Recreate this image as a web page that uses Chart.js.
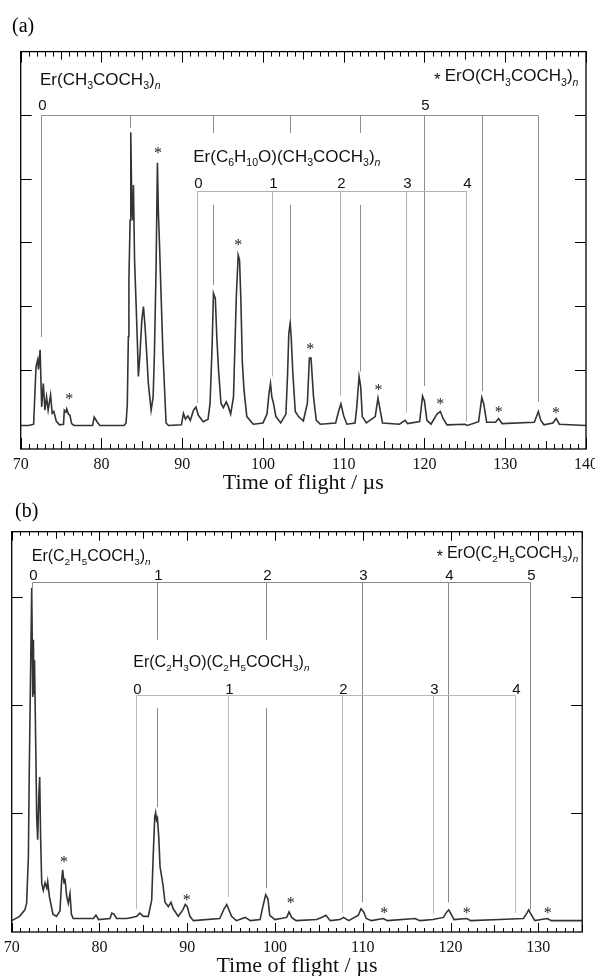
<!DOCTYPE html>
<html>
<head>
<meta charset="utf-8">
<script src="https://cdn.jsdelivr.net/npm/chart.js@4.4.0/dist/chart.umd.min.js"></script>
<style>
  html, body { margin: 0; padding: 0; background: #fff; }
  #wrap { position: relative; width: 595px; height: 976px; overflow: hidden; }
  canvas { position: absolute; left: 0; }
  #chartA { top: 0; }
  #chartB { top: 496px; }
</style>
</head>
<body>
<div id="wrap">
  <canvas id="chartA" width="595" height="500"></canvas>
  <canvas id="chartB" width="595" height="480"></canvas>
</div>
<script>
// ---------- panel (a): Er + acetone ----------
const timeA = [70.0, 71.0, 71.6, 71.9, 72.1, 72.2, 72.4, 72.6, 72.8, 73.0, 73.2, 73.4, 73.7, 73.9, 74.1, 74.4, 74.8,
  75.3, 75.4, 75.6, 75.7, 75.9, 76.1, 76.3, 76.6, 78.9, 79.1, 79.3, 79.5, 79.8, 82.8, 83.05, 83.2, 83.33, 83.4,
  83.55, 83.63, 83.75, 83.88, 83.96, 84.1, 84.3, 84.45, 84.57, 84.75, 85.0, 85.2, 85.4, 85.6, 85.8, 86.15, 86.4,
  86.56, 86.76, 86.93, 87.05, 87.2, 87.35, 87.6, 87.8, 88.0, 88.3, 89.9, 90.15, 90.4, 90.7, 91.0, 91.4, 91.7, 92.0,
  92.6, 93.2, 93.45, 93.7, 93.87, 94.1, 94.3, 94.5, 94.8, 95.1, 95.45, 95.7, 96.0, 96.35, 96.7, 96.93, 97.1, 97.25,
  97.45, 97.65, 98.0, 98.8, 100.0, 100.5, 100.75, 100.93, 101.1, 101.3, 101.6, 102.2, 102.84, 103.05, 103.2,
  103.37, 103.5, 103.7, 104.0, 104.4, 105.0, 105.5, 105.75, 105.95, 106.26, 106.6, 107.1, 109.0, 109.36, 109.65,
  110.0, 110.4, 111.4, 111.6, 111.9, 112.1, 112.3, 112.8, 113.9, 114.24, 114.5, 114.8, 116.9, 117.6, 117.9, 119.4,
  119.76, 120.0, 120.3, 120.8, 121.55, 121.96, 122.3, 122.8, 125.0, 125.3, 126.7, 127.1, 127.35, 127.7, 128.8,
  129.18, 129.6, 133.6, 134.1, 134.4, 134.8, 135.9, 136.3, 136.7, 140.0];
const signalA = [0.12, 0.12, 0.14, 1.05, 1.15, 1.0, 1.31, 0.41, 0.78, 0.36, 0.57, 0.36, 0.60, 0.31, 0.34, 0.19, 0.13,
  0.14, 0.36, 0.33, 0.38, 0.30, 0.28, 0.15, 0.12, 0.12, 0.25, 0.21, 0.17, 0.12, 0.12, 0.16, 0.45, 1.52, 2.41,
  3.35, 4.73, 3.62, 3.35, 3.9, 2.72, 1.99, 1.42, 0.89, 1.2, 1.78, 1.99, 1.67, 1.26, 0.79, 0.36, 0.57,
  1.26, 2.57, 4.25, 3.46, 2.93, 2.30, 1.31, 0.73, 0.16, 0.12, 0.13, 0.31, 0.22, 0.27, 0.20, 0.36, 0.41, 0.28,
  0.18, 0.22, 0.47, 1.36, 2.2, 2.12, 1.46, 0.99, 0.47, 0.40, 0.49, 0.42, 0.30, 0.57, 2.15, 2.80, 2.72, 2.15,
  1.10, 0.68, 0.26, 0.14, 0.16, 0.30, 0.63, 0.78, 0.57, 0.47, 0.26, 0.16, 0.30, 0.94, 1.57,
  1.73, 1.5, 0.94, 0.34, 0.26, 0.19, 0.47, 1.18, 1.18, 0.57, 0.20, 0.14, 0.16, 0.34, 0.46,
  0.27, 0.14, 0.16, 0.39, 0.89, 0.73, 0.26, 0.16, 0.26, 0.55, 0.37, 0.16, 0.14, 0.20, 0.15, 0.18,
  0.58, 0.50, 0.20, 0.14, 0.30, 0.34, 0.23, 0.13, 0.14, 0.12, 0.18, 0.56, 0.45, 0.17, 0.17,
  0.23, 0.15, 0.17, 0.34, 0.20, 0.13, 0.16, 0.23, 0.14, 0.12];

// Er(CH3COCH3)n, n = 0..7
const combA1Pos = [72.5, 83.55, 93.8, 103.4, 112.0, 119.9, 127.1, 134.1];
const combA1End = [1.51, 4.80, 2.33, 1.82, 0.97, 0.74, 0.66, 0.49];
const combA1Num = ['0', '', '', '', '', '5', '', ''];
// Er(C6H10O)(CH3COCH3)n, n = 0..4
const combA2Pos = [91.8, 101.1, 109.6, 117.7, 125.1];
const combA2End = [0.47, 0.89, 0.59, 0.32, 0.18];
const combA2Num = ['0', '1', '2', '3', '4'];
// ErO(CH3COCH3)n peaks marked with *
const starATime = [76.0, 87.0, 96.93, 105.85, 114.3, 121.96, 129.2, 136.3];
const starAVal = [0.57, 4.44, 2.99, 1.35, 0.71, 0.50, 0.36, 0.35];

const xLabelsA = [70, 80, 90, 100, 110, 120, 130, 140];
const yTicksA = [1, 2, 3, 4, 5];

// ---------- panel (b): Er + 2-butanone ----------
const timeB = [70.0, 70.9, 71.5, 71.7, 71.9, 72.0, 72.15, 72.28, 72.36, 72.4, 72.47, 72.55, 72.6, 72.73, 72.85,
  72.96, 73.1, 73.19, 73.3, 73.42, 73.6, 73.8, 74.0, 74.1, 74.3, 74.5, 74.7, 75.1, 75.5, 75.7, 75.81, 75.96,
  76.07, 76.26, 76.45, 76.64, 76.8, 77.0, 79.3, 79.6, 79.9, 81.2, 81.4, 81.65, 81.95, 83.1, 83.7, 84.24, 84.6,
  85.0, 85.56, 85.95, 86.13, 86.3, 86.4, 86.5, 86.6, 86.75, 86.9, 87.1, 87.27, 87.46, 87.84, 88.15, 88.4, 88.98,
  89.5, 89.78, 90.0, 90.3, 90.7, 93.7, 94.2, 94.5, 94.7, 95.05, 95.6, 96.6, 97.2, 98.3, 98.67, 98.94, 99.2, 99.4,
  100.0, 101.33, 101.6, 101.9, 102.4, 104.75, 105.3, 105.8, 106.3, 107.4, 107.8, 108.4, 109.5, 109.8, 110.1,
  110.4, 111.0, 112.34, 112.8, 115.95, 116.5, 118.0, 119.2, 119.48, 119.79, 120.0, 120.4, 121.84, 122.3, 125.6,
  128.3, 128.7, 128.9, 129.1, 129.6, 131.0, 131.5, 135.0];
const signalB = [0.0, 0.04, 0.10, 0.16, 0.59, 1.37, 2.29, 3.08, 2.44, 2.07, 2.6, 2.1, 2.41, 1.67, 0.96,
  0.75, 1.18, 1.33, 0.75, 0.35, 0.28, 0.35, 0.30, 0.36, 0.22, 0.14, 0.06, 0.04, 0.09, 0.38, 0.47, 0.35,
  0.39, 0.23, 0.16, 0.25, 0.06, 0.02, 0.02, 0.05, 0.01, 0.02, 0.07, 0.06, 0.02, 0.02, 0.03, 0.04, 0.07,
  0.04, 0.04, 0.19, 0.62, 0.96, 1.0, 0.93, 0.95, 0.78, 0.50, 0.40, 0.31, 0.17, 0.13, 0.17, 0.11, 0.04,
  0.10, 0.15, 0.13, 0.04, 0.0, 0.02, 0.11, 0.15, 0.11, 0.04, 0.0, 0.03, 0.0, 0.01, 0.15, 0.24, 0.20, 0.05,
  0.01, 0.03, 0.08, 0.03, 0.0, 0.01, 0.03, 0.05, 0.0, 0.01, 0.03, 0.0, 0.05, 0.11, 0.08,
  0.02, 0.0, 0.02, 0.0, 0.02, 0.0, 0.01, 0.03, 0.07, 0.10, 0.07, 0.01, 0.02, 0.0, 0.01,
  0.02, 0.07, 0.10, 0.07, 0.0, 0.02, 0.0, 0.0];

// Er(C2H5COCH3)n, n = 0..5
const combB1Pos = [72.28, 86.52, 98.94, 109.95, 119.74, 129.05];
const combB1End = [3.08, 1.05, 0.30, 0.17, 0.17, 0.10];
const combB1Num = ['0', '1', '2', '3', '4', '5'];
// Er(C2H3O)(C2H5COCH3)n, n = 0..4
const combB2Pos = [84.13, 94.61, 107.6, 117.97, 127.35];
const combB2End = [0.11, 0.22, 0.07, 0.06, 0.07];
const combB2Num = ['0', '1', '2', '3', '4'];
// ErO(C2H5COCH3)n peaks marked with *
const starBTime = [75.96, 89.94, 101.8, 112.45, 121.84, 131.07];
const starBVal = [0.56, 0.21, 0.18, 0.09, 0.09, 0.09];

const xLabelsB = [70, 80, 90, 100, 110, 120, 130];
const yTicksB = [1, 2, 3];

// ---------- drawing helpers ----------
const SANS = '"Liberation Sans", Arial, sans-serif';
const SERIF = '"Liberation Serif", "Times New Roman", serif';

// "Er(CH_3COCH_3)_n" -> segments with subscripts
function parseRich(s) {
  const out = [];
  const re = /_(\d+|n)/g;
  let last = 0, m;
  while ((m = re.exec(s))) {
    if (m.index > last) out.push({ t: s.slice(last, m.index), sub: false });
    out.push({ t: m[1], sub: true, it: m[1] === 'n' });
    last = re.lastIndex;
  }
  if (last < s.length) out.push({ t: s.slice(last), sub: false });
  return out;
}

function drawRich(ctx, s, x, y, size, align) {
  const segs = parseRich(s);
  const fontOf = g => (g.it ? 'italic ' : '') + (g.sub ? size * 0.62 : size) + 'px ' + SANS;
  let w = 0;
  segs.forEach(g => { ctx.font = fontOf(g); g.w = ctx.measureText(g.t).width; w += g.w; });
  let cx = align === 'right' ? x - w : x;
  ctx.textAlign = 'left';
  ctx.textBaseline = 'alphabetic';
  segs.forEach(g => {
    ctx.font = fontOf(g);
    ctx.fillText(g.t, cx, y + (g.sub ? size * 0.28 : 0));
    cx += g.w;
  });
  return align === 'right' ? x - w : x;
}

function drawComb(ctx, xs, ys, c) {
  const yl = Math.round(ys.getPixelForValue(c.level)) + 0.5;
  const px = c.pos.map(t => Math.round(xs.getPixelForValue(t)) + 0.5);
  ctx.save();
  ctx.strokeStyle = c.color;
  ctx.lineWidth = 1;
  ctx.beginPath();
  ctx.moveTo(px[0], yl);
  ctx.lineTo(px[px.length - 1], yl);
  px.forEach((p, i) => {
    const ye = ys.getPixelForValue(c.ends[i]);
    if (c.gapIdx && c.gapIdx.includes(i)) {
      const g1 = ys.getPixelForValue(c.gap[1]);
      const g0 = ys.getPixelForValue(c.gap[0]);
      ctx.moveTo(p, yl); ctx.lineTo(p, g1);
      ctx.moveTo(p, g0); ctx.lineTo(p, ye);
    } else {
      ctx.moveTo(p, yl); ctx.lineTo(p, ye);
    }
  });
  ctx.stroke();
  ctx.fillStyle = '#111';
  ctx.font = c.numSize + 'px ' + SANS;
  ctx.textAlign = 'center';
  ctx.textBaseline = 'alphabetic';
  px.forEach((p, i) => { if (c.nums[i]) ctx.fillText(c.nums[i], p + 1, yl - c.numGap); });
  ctx.restore();
}

function decorPlugin(panel) {
  return {
    id: 'decor',
    afterDatasetsDraw(chart) {
      const { ctx, chartArea: a, scales: { x, y } } = chart;
      ctx.save();
      panel.combs.forEach(c => drawComb(ctx, x, y, c));

      // asterisks over ErO peaks
      ctx.fillStyle = '#222';
      ctx.font = '16px ' + SERIF;
      ctx.textAlign = 'center';
      ctx.textBaseline = 'middle';
      panel.starT.forEach((t, i) => ctx.fillText('*', x.getPixelForValue(t), y.getPixelForValue(panel.starV[i]) + 3));

      // series names
      ctx.fillStyle = '#111';
      panel.names.forEach(n => {
        const left = drawRich(ctx, n.text, x.getPixelForValue(n.t), y.getPixelForValue(n.v), panel.nameSize, n.align);
        if (n.star) {
          ctx.font = panel.nameSize + 'px ' + SANS;
          ctx.textAlign = 'right';
          ctx.fillText('*', left - 4, y.getPixelForValue(n.v) + 4);
        }
      });

      // frame
      ctx.strokeStyle = '#000';
      ctx.lineWidth = 1.3;
      ctx.strokeRect(a.left, a.top, a.right - a.left, a.bottom - a.top);

      // inward x ticks, bottom and mirrored top
      ctx.lineWidth = 1;
      ctx.beginPath();
      for (let t = Math.ceil(x.min); t <= x.max; t++) {
        const px = Math.round(x.getPixelForValue(t)) + 0.5;
        const len = t % 10 === 0 ? panel.tick[0] : (t % 5 === 0 ? panel.tick[1] : panel.tick[2]);
        ctx.moveTo(px, a.bottom); ctx.lineTo(px, a.bottom - len);
        ctx.moveTo(px, a.top); ctx.lineTo(px, a.top + len);
      }
      // inward y ticks, left and mirrored right
      panel.yTicks.forEach(v => {
        const py = Math.round(y.getPixelForValue(v)) + 0.5;
        ctx.moveTo(a.left, py); ctx.lineTo(a.left + 11, py);
        ctx.moveTo(a.right, py); ctx.lineTo(a.right - 11, py);
      });
      ctx.stroke();

      // panel letter
      ctx.fillStyle = '#000';
      ctx.font = '20px ' + SERIF;
      ctx.textAlign = 'left';
      ctx.textBaseline = 'alphabetic';
      ctx.fillText(panel.letter, panel.letterPos[0], panel.letterPos[1]);
      ctx.restore();
    }
  };
}

function makeChart(id, p) {
  return new Chart(document.getElementById(id), {
    type: 'line',
    data: {
      datasets: [{
        data: p.time.map((t, i) => ({ x: t, y: p.signal[i] })),
        borderColor: '#333',
        borderWidth: 1.6,
        pointRadius: 0,
        tension: 0,
        fill: false
      }]
    },
    options: {
      responsive: false,
      animation: false,
      layout: { padding: p.pad },
      plugins: { legend: { display: false }, tooltip: { enabled: false } },
      scales: {
        x: {
          type: 'linear',
          min: p.xMin,
          max: p.xMax,
          afterBuildTicks: s => { s.ticks = p.xLabels.map(v => ({ value: v })); },
          afterFit: s => { s.height = p.axisH; s.paddingLeft = 0; s.paddingRight = 0; },
          grid: { display: false, drawTicks: false },
          border: { display: false },
          ticks: {
            autoSkip: false,
            maxRotation: 0,
            padding: 6,
            color: '#111',
            font: { family: '"Liberation Serif"', size: 16 }
          },
          title: {
            display: true,
            text: 'Time of flight / µs',
            color: '#111',
            font: { family: '"Liberation Serif"', size: 22 },
            padding: { top: 0, bottom: p.titlePad }
          }
        },
        y: { type: 'linear', min: p.yMin, max: p.yMax, display: false }
      }
    },
    plugins: [decorPlugin(p)]
  });
}

makeChart('chartA', {
  time: timeA, signal: signalA, xMin: 70, xMax: 140, yMin: -0.25, yMax: 6.0,
  xLabels: xLabelsA, yTicks: yTicksA,
  pad: { left: 20.7, right: 9, top: 51.6, bottom: 0 }, axisH: 51, titlePad: 4,
  tick: [11, 8, 5], letter: '(a)', letterPos: [12, 32], nameSize: 17,
  starT: starATime, starV: starAVal,
  combs: [
    { pos: combA1Pos, ends: combA1End, nums: combA1Num, level: 5.0, color: '#8e8e8e', numSize: 15, numGap: 6,
      gapIdx: [2, 3, 4], gap: [3.59, 4.72] },
    { pos: combA2Pos, ends: combA2End, nums: combA2Num, level: 3.80, color: '#b2b2b2', numSize: 15, numGap: 4 }
  ],
  names: [
    { text: 'Er(CH_3COCH_3)_n', t: 72.39, v: 5.48, align: 'left' },
    { text: 'Er(C_6H_10O)(CH_3COCH_3)_n', t: 91.37, v: 4.27, align: 'left' },
    { text: 'ErO(CH_3COCH_3)_n', t: 139.06, v: 5.54, align: 'right', star: true }
  ]
});

makeChart('chartB', {
  time: timeB, signal: signalB, xMin: 70, xMax: 135, yMin: -0.105, yMax: 3.6,
  xLabels: xLabelsB, yTicks: yTicksB,
  pad: { left: 11.7, right: 12.8, top: 35.7, bottom: 0 }, axisH: 44, titlePad: -3,
  tick: [9, 7, 4], letter: '(b)', letterPos: [15, 21], nameSize: 16,
  starT: starBTime, starV: starBVal,
  combs: [
    { pos: combB1Pos, ends: combB1End, nums: combB1Num, level: 3.13, color: '#8a8a8a', numSize: 15, numGap: 3,
      gapIdx: [1, 2], gap: [1.97, 2.60] },
    { pos: combB2Pos, ends: combB2End, nums: combB2Num, level: 2.09, color: '#b8b8b8', numSize: 15, numGap: 2 }
  ],
  names: [
    { text: 'Er(C_2H_5COCH_3)_n', t: 72.28, v: 3.33, align: 'left' },
    { text: 'Er(C_2H_3O)(C_2H_5COCH_3)_n', t: 83.85, v: 2.35, align: 'left' },
    { text: 'ErO(C_2H_5COCH_3)_n', t: 134.55, v: 3.36, align: 'right', star: true }
  ]
});
</script>
</body>
</html>
